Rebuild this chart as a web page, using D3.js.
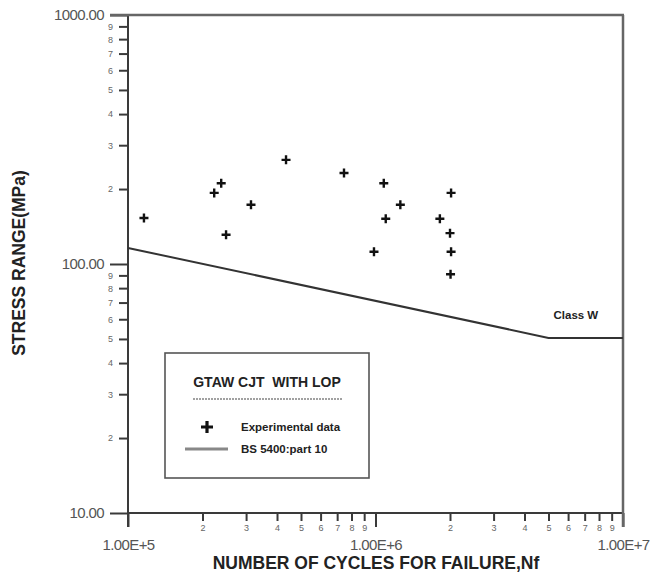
<!DOCTYPE html>
<html><head><meta charset="utf-8">
<script src="https://cdn.jsdelivr.net/npm/d3@7"></script>
<style>body{margin:0;background:#fff}svg{display:block}text{font-family:"Liberation Sans",Arial,sans-serif}</style>
</head><body><svg id="c" width="653" height="575"></svg>
<script>
// Experimental data (cycles, stress range MPa)
const cycles = [1.16e5, 2.23e5, 2.38e5, 2.49e5, 3.14e5, 4.35e5, 7.46e5, 1.08e6, 9.86e5, 1.10e6, 1.26e6, 1.82e6, 2.02e6, 2.0e6, 2.02e6, 2.01e6];
const stress = [153, 193, 211, 131, 173, 262, 232, 211, 112, 152, 173, 152, 193, 133, 112, 91];
// BS 5400 part 10 class W design line
const lineCycles = [1e5, 5e6, 1e7];
const lineStress = [116, 50.5, 50.5];
const yMajor = [10, 100, 1000];
const xMajor = [1e5, 1e6, 1e7];
const minorDigits = [2,3,4,5,6,7,8,9];
const xMajorLabels = ["1.00E+5","1.00E+6","1.00E+7"];

const svg = d3.select("#c");
const L = 128, R = 623, T = 15, B = 513;
const x = d3.scaleLog().domain([1e5, 1e7]).range([L, R]);
const y = d3.scaleLog().domain([10, 1000]).range([B, T]);
const axisCol = "#3a3a3a";

const yMinor = [], xMinor = [];
[10, 100].forEach(d => minorDigits.forEach(m => yMinor.push(d * m)));
[1e5, 1e6].forEach(d => minorDigits.forEach(m => xMinor.push(d * m)));
const digit = d => String(Math.round(d / Math.pow(10, Math.floor(Math.log10(d) + 1e-9))));

// Y axis majors
const gy = svg.append("g").attr("transform", `translate(${L},0)`);
gy.call(d3.axisLeft(y).tickValues(yMajor).tickSize(18).tickPadding(6).tickFormat(d3.format(".2f")));
gy.call(g => g.select(".domain").remove());
gy.selectAll("line").attr("stroke", axisCol).attr("stroke-width", 2);
gy.selectAll("text").attr("font-size", 15).attr("fill", "#555").attr("font-family", "Liberation Sans, Arial").attr("letter-spacing", -0.6);
// Y axis minors
const gy2 = svg.append("g").attr("transform", `translate(${L},0)`);
gy2.call(d3.axisLeft(y).tickValues(yMinor).tickSize(9).tickPadding(6).tickFormat(digit));
gy2.call(g => g.select(".domain").remove());
gy2.selectAll("line").attr("stroke", axisCol).attr("stroke-width", 2);
gy2.selectAll("text").attr("font-size", 9).attr("fill", "#666").attr("font-family", "Liberation Sans, Arial");

// X axis majors
const gx = svg.append("g").attr("transform", `translate(0,${B})`);
gx.call(d3.axisBottom(x).tickValues(xMajor).tickSize(14).tickPadding(12).tickFormat((d, i) => xMajorLabels[i]));
gx.call(g => g.select(".domain").remove());
gx.selectAll("line").attr("stroke", axisCol).attr("stroke-width", 2);
gx.selectAll("text").attr("font-size", 15).attr("fill", "#555").attr("font-family", "Liberation Sans, Arial").attr("letter-spacing", -0.6);
// X axis minors
const gx2 = svg.append("g").attr("transform", `translate(0,${B})`);
gx2.call(d3.axisBottom(x).tickValues(xMinor).tickSize(8).tickPadding(4).tickFormat(digit));
gx2.call(g => g.select(".domain").remove());
gx2.selectAll("line").attr("stroke", axisCol).attr("stroke-width", 2);
gx2.selectAll("text").attr("font-size", 9).attr("fill", "#666").attr("font-family", "Liberation Sans, Arial");

// Frame
svg.append("line").attr("x1", L).attr("x2", L).attr("y1", T).attr("y2", B + 14).attr("stroke", axisCol).attr("stroke-width", 2);
svg.append("line").attr("x1", L).attr("x2", R).attr("y1", B).attr("y2", B).attr("stroke", axisCol).attr("stroke-width", 2);
svg.append("line").attr("x1", L - 18).attr("x2", R + 1).attr("y1", T).attr("y2", T).attr("stroke", "#666").attr("stroke-width", 2.5);
svg.append("line").attr("x1", R).attr("x2", R).attr("y1", T).attr("y2", B + 14).attr("stroke", "#666").attr("stroke-width", 2.5);

// Design line
const lineData = lineCycles.map((c, i) => [c, lineStress[i]]);
svg.append("path").datum(lineData)
  .attr("d", d3.line().x(d => x(d[0])).y(d => y(d[1])))
  .attr("fill", "none").attr("stroke", "#333").attr("stroke-width", 2);
svg.append("text").attr("x", x(6.45e6)).attr("y", y(60)).attr("text-anchor", "middle")
  .attr("font-size", 11.5).attr("font-weight", "bold").attr("fill", "#222").text("Class W");

// Data markers
const plus = (sel, s, w) => sel.append("path")
  .attr("d", `M${-s},0H${s}M0,${-s}V${s}`).attr("stroke", "#111").attr("stroke-width", w).attr("fill", "none");
cycles.forEach((c, i) => {
  const g = svg.append("g").attr("transform", `translate(${x(c)},${y(stress[i])})`);
  plus(g, 4.5, 2.4);
});

// Legend
svg.append("rect").attr("x", 165).attr("y", 353).attr("width", 204).attr("height", 125)
  .attr("fill", "#fff").attr("stroke", "#555").attr("stroke-width", 1.6);
svg.append("text").attr("x", 267).attr("y", 387).attr("text-anchor", "middle")
  .attr("font-size", 14).attr("font-weight", "bold").attr("fill", "#222").attr("xml:space", "preserve").text("GTAW CJT  WITH LOP");
svg.append("line").attr("x1", 193).attr("x2", 342).attr("y1", 399).attr("y2", 399)
  .attr("stroke", "#444").attr("stroke-width", 1.2).attr("stroke-dasharray", "2,1");
const lg = svg.append("g").attr("transform", "translate(207,427)");
plus(lg, 6, 3.2);
svg.append("text").attr("x", 241).attr("y", 431).attr("font-size", 11.5).attr("font-weight", "bold").attr("fill", "#222").text("Experimental data");
svg.append("line").attr("x1", 185).attr("x2", 228).attr("y1", 449).attr("y2", 449).attr("stroke", "#888").attr("stroke-width", 3);
svg.append("text").attr("x", 241).attr("y", 453).attr("font-size", 11.5).attr("font-weight", "bold").attr("fill", "#222").text("BS 5400:part 10");

// Axis titles
svg.append("text").attr("x", 376).attr("y", 569).attr("text-anchor", "middle")
  .attr("font-size", 17.5).attr("font-weight", "bold").attr("fill", "#222").text("NUMBER OF CYCLES FOR FAILURE,Nf");
svg.append("text").attr("transform", "translate(25,263) rotate(-90)").attr("text-anchor", "middle")
  .attr("font-size", 17.5).attr("font-weight", "bold").attr("fill", "#222").text("STRESS RANGE(MPa)");
</script></body></html>
